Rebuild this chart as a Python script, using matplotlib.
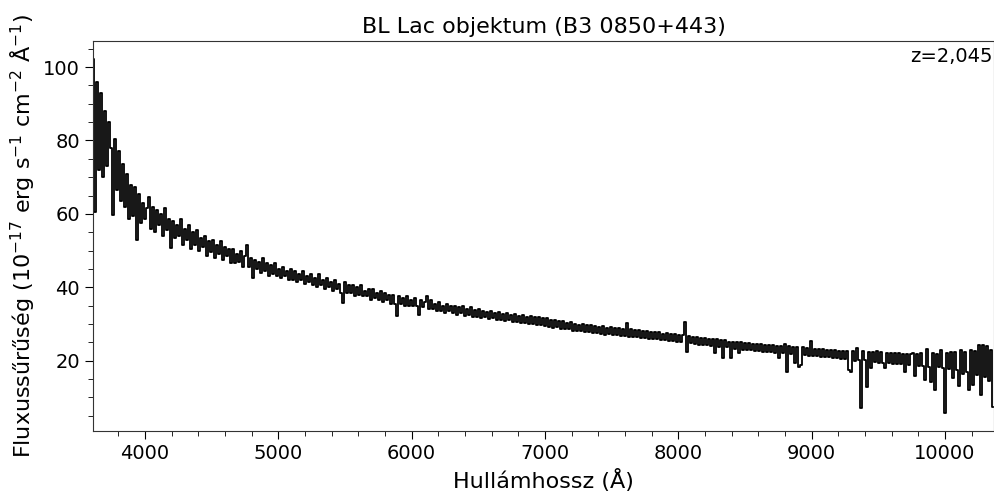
import numpy as np
import matplotlib
matplotlib.use("Agg")
import matplotlib.pyplot as plt
from matplotlib.ticker import MultipleLocator

wave_start = 3610
wave_step = 15
flux = [
    102.3, 60.5, 96.0, 72.0, 93.0, 70.0, 88.0, 73.0, 85.0, 78.0,
    59.8, 80.5, 66.5, 77.0, 63.5, 73.5, 62.0, 71.0, 58.5, 68.0,
    59.5, 67.3, 53.0, 65.5, 57.5, 63.0, 58.5, 61.5, 64.5, 56.0,
    62.0, 55.0, 61.0, 57.0, 60.0, 54.0, 61.5, 55.5, 58.5, 50.7,
    58.0, 53.5, 57.0, 54.0, 58.5, 51.5, 56.0, 53.0, 57.0, 50.5,
    55.0, 51.5, 55.5, 50.0, 53.5, 51.0, 54.0, 48.5, 52.5, 49.5,
    53.0, 48.0, 51.5, 49.0, 52.5, 47.5, 51.0, 48.5, 50.5, 46.5,
    50.5, 46.5, 49.0, 47.0, 50.0, 45.5, 48.5, 51.5, 45.5, 48.0,
    42.5, 47.5, 45.0, 47.0, 44.0, 48.0, 44.5, 46.5, 43.0, 46.0,
    43.5, 46.5, 43.0, 45.0, 42.5, 45.5, 43.0, 44.5, 42.0, 45.0,
    42.0, 44.5, 41.5, 43.5, 42.0, 44.5, 41.0, 43.0, 41.5, 43.5,
    40.5, 42.5, 40.0, 43.5, 40.5, 42.0, 39.5, 42.5, 40.0, 41.5,
    39.0, 42.0, 39.5, 41.0, 38.5, 35.7, 41.5, 38.5, 40.5, 38.5,
    40.5, 37.5, 40.0, 38.0, 40.5, 37.5, 39.0, 37.5, 39.5, 36.5,
    39.5, 37.0, 38.5, 36.5, 39.0, 36.0, 38.5, 36.5, 38.0, 35.5,
    38.0, 35.5, 32.3, 37.5, 35.5, 37.0, 35.0, 37.5, 35.0, 36.5,
    34.8, 37.0, 35.0, 32.4, 36.5, 34.5, 36.0, 37.5, 34.0, 36.5,
    34.0, 35.5, 33.5, 36.0, 33.5, 35.0, 33.0, 35.5, 33.5, 35.0,
    33.0, 35.0, 32.5, 34.5, 33.0, 34.8, 32.3, 34.0, 32.5, 34.5,
    31.8, 33.8, 32.0, 34.0, 31.5, 33.5, 31.8, 33.2, 31.3, 33.6,
    31.5, 33.0, 31.0, 33.4, 31.2, 32.8, 30.8, 33.0, 31.0, 32.5,
    30.6, 32.8, 30.5, 32.3, 30.2, 32.5, 30.4, 32.0, 30.0, 32.2,
    30.0, 31.8, 29.7, 32.0, 29.6, 31.5, 29.5, 31.6, 29.3, 31.2,
    29.0, 31.0, 29.2, 30.7, 28.7, 30.9, 28.6, 30.4, 28.5, 30.5,
    28.2, 30.1, 28.0, 29.8, 28.1, 30.0, 27.8, 29.6, 27.8, 29.7,
    27.5, 29.4, 27.6, 29.3, 27.3, 29.4, 27.1, 29.0, 27.2, 29.1,
    27.0, 28.8, 26.9, 28.9, 26.7, 28.5, 26.8, 30.4, 26.5, 28.5,
    26.5, 28.3, 26.4, 28.4, 26.2, 28.0, 26.2, 28.1, 25.9, 27.8,
    25.9, 27.7, 25.8, 27.8, 25.6, 27.4, 25.6, 27.5, 25.3, 27.2,
    25.3, 27.2, 25.2, 27.0, 25.0, 27.0, 30.6, 22.4, 26.8, 24.7,
    26.4, 24.6, 26.5, 24.4, 26.2, 24.3, 26.3, 24.2, 25.9, 24.0,
    25.8, 22.0, 25.8, 23.8, 25.5, 20.7, 25.6, 23.6, 25.2, 20.8,
    25.2, 23.3, 25.0, 22.0, 25.1, 23.0, 24.8, 22.9, 24.8, 22.8,
    24.6, 22.7, 24.5, 22.6, 24.6, 22.5, 24.3, 22.4, 24.4, 22.3,
    24.3, 22.2, 24.1, 20.8, 24.0, 22.1, 24.5, 17.0, 23.9, 21.9,
    23.8, 19.5, 23.7, 18.3, 18.7, 23.6, 21.6, 23.4, 21.4, 25.4,
    21.3, 23.2, 21.2, 23.1, 21.0, 23.1, 21.0, 22.9, 20.9, 22.8,
    20.7, 22.8, 20.6, 22.7, 20.5, 22.7, 20.4, 22.6, 17.5, 17.0,
    22.7, 20.0, 23.4, 20.2, 7.1, 22.6, 20.1, 12.9, 22.5, 18.0,
    22.5, 19.6, 22.6, 19.4, 22.3, 19.5, 18.0, 22.2, 19.3, 22.1,
    19.2, 22.1, 19.1, 22.2, 19.0, 21.9, 17.0, 21.8, 18.9, 21.9,
    22.0, 15.8, 21.9, 18.6, 22.0, 18.5, 14.7, 23.2, 18.4, 14.3,
    22.2, 12.0, 21.8, 18.2, 23.0, 18.0, 5.7, 22.0, 17.8, 22.3,
    15.2, 22.5, 17.5, 13.0, 22.8, 16.5, 22.4, 17.0, 12.0, 22.9,
    13.5, 22.6, 16.0, 24.2, 10.6, 24.2, 15.5, 24.0, 14.5, 22.8,
    7.5,
]
wave = wave_start + wave_step * np.arange(len(flux))

fig = plt.figure(figsize=(9.95, 4.93), dpi=100)
ax = fig.add_subplot(111)
fig.subplots_adjust(left=0.0935, right=0.999, top=0.917, bottom=0.126)

ax.plot(wave, flux, color="black", lw=1.3, drawstyle="steps-mid")
ax.set_xlim(3610, 10368)

ax.xaxis.set_major_locator(MultipleLocator(1000))
ax.xaxis.set_minor_locator(MultipleLocator(200))
ax.yaxis.set_major_locator(MultipleLocator(20))
ax.yaxis.set_minor_locator(MultipleLocator(5))
ax.tick_params(which="major", labelsize=14, length=6)
ax.tick_params(which="minor", length=3.5)

for s in ax.spines.values():
    s.set_color("#333333")

ax.set_title("BL Lac objektum (B3 0850+443)", fontsize=16)
ax.set_xlabel("Hullámhossz (Å)", fontsize=16)
ax.set_ylabel(r"Fluxussűrűség (10$^{-17}$ erg s$^{-1}$ cm$^{-2}$ Å$^{-1}$)", fontsize=16)
ax.text(0.999, 0.985, "z=2,045", transform=ax.transAxes, ha="right", va="top", fontsize=14)

fig.savefig("out.png", dpi=100)
